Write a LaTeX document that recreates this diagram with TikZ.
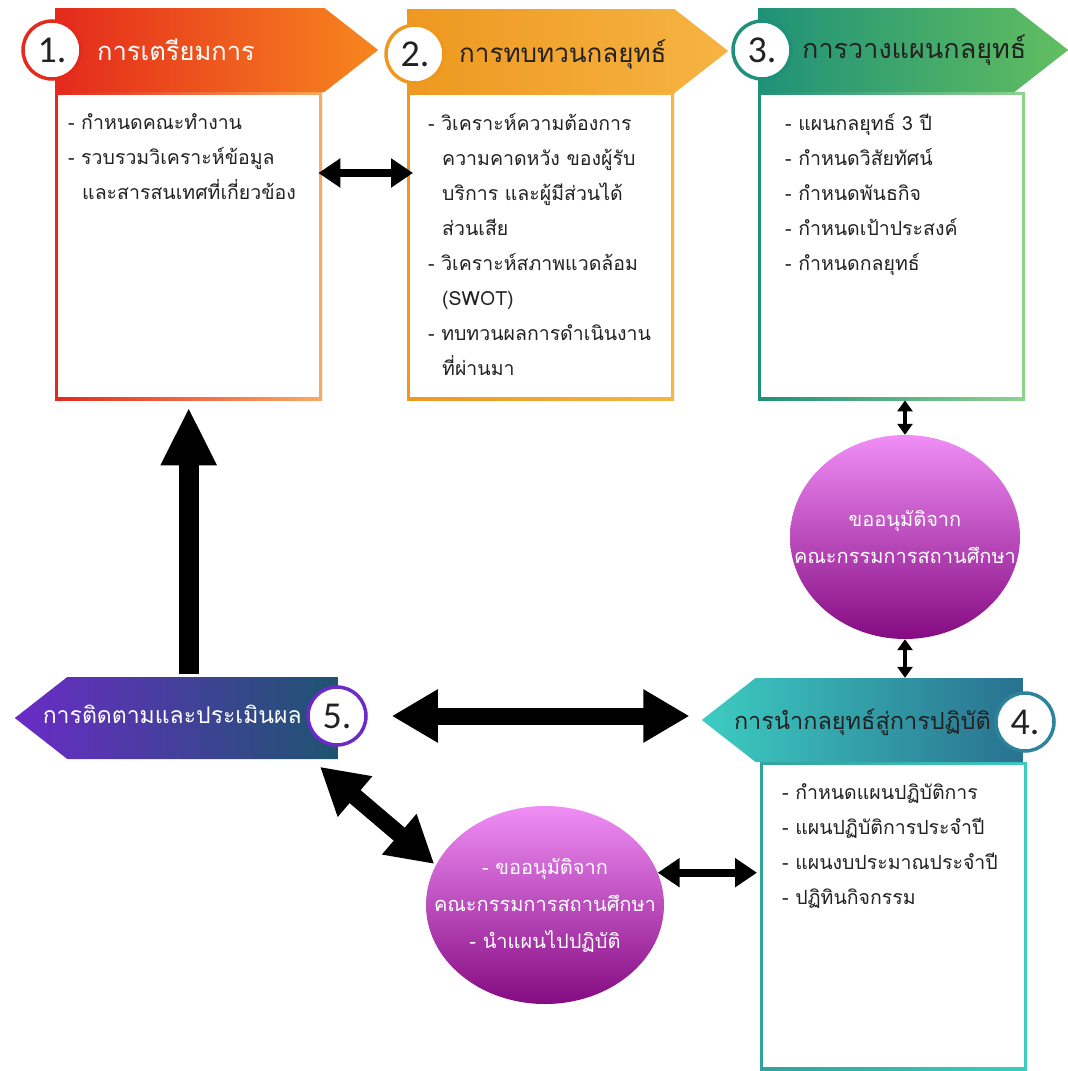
\documentclass[tikz,border=0pt]{standalone}
\usepackage{fontspec}
\setmainfont{Carlito}
\newfontfamily\thai[Script=Thai]{Loma}
\usepackage{tikz}
\usetikzlibrary{arrows.meta, positioning, shapes.geometric, shapes.symbols, calc}

\definecolor{redA}{HTML}{E42A1D}
\definecolor{redB}{HTML}{F7861E}
\definecolor{orgA}{HTML}{EE9820}
\definecolor{orgB}{HTML}{F6B443}
\definecolor{grnA}{HTML}{1F9178}
\definecolor{grnB}{HTML}{62BE60}
\definecolor{tealA}{HTML}{3DCCC2}
\definecolor{tealB}{HTML}{29718F}
\definecolor{purA}{HTML}{6A2BC6}
\definecolor{purB}{HTML}{1E5470}
\definecolor{ovaltop}{HTML}{F08EF6}
\definecolor{ovalmid}{HTML}{C23FC4}
\definecolor{ovalbot}{HTML}{850B82}
\definecolor{txt}{HTML}{222222}

\begin{document}
\begin{tikzpicture}[x=1pt, y=1pt,
        box/.style 2 args={rectangle, anchor=north west, inner sep=0pt, minimum width=267pt, minimum height=308pt,
            path picture={\shade[left color=#1, right color=#2] (path picture bounding box.south west) rectangle (path picture bounding box.north east);
                \fill[white] ([shift={(3pt,3pt)}]path picture bounding box.south west) rectangle ([shift={(-3pt,-3pt)}]path picture bounding box.north east);}},
        head/.style={signal, signal pointer angle=76, inner sep=0pt, minimum height=84pt, minimum width=322pt},
        num/.style={circle, draw=#1, line width=3.5pt, fill=white, minimum size=58pt, inner sep=0pt, text=txt, font=\fontsize{38}{40}\selectfont},
        title/.style={font=\thai\fontsize{#1}{30}\selectfont, inner sep=0pt},
        item/.style={font=\thai\fontsize{19.5}{35}\selectfont, align=left, anchor=north west, inner sep=0pt, text=txt},
        oval/.style={ellipse, top color=ovaltop, middle color=ovalmid, bottom color=ovalbot, align=center, text=white, inner xsep=-32pt, inner ysep=0pt, font=\thai\fontsize{20}{37}\selectfont},
        arrow/.style={{Triangle[width=28pt,length=22pt]}-{Triangle[width=28pt,length=22pt]}, line width=8pt},
        thinarrow/.style={{Triangle[width=15pt,length=11pt]}-{Triangle[width=15pt,length=11pt]}, line width=4pt},
        bigarrow/.style={{Triangle[width=50pt,length=46pt]}-{Triangle[width=50pt,length=46pt]}, line width=17pt},
        uparrow/.style={-{Triangle[width=52pt,length=58pt]}, line width=20pt}
    ]
        \useasboundingbox (0,0) rectangle (1068,-1071);

        \node[box={redA}{redB!70!white}] (b1) at (55,-92) {};
        \node[box={orgA}{orgB}] (b2) at (407,-92) {};
        \node[box={grnA}{grnB!70!white}] (b3) at (758,-92) {};
        \node[box={tealA!80!black}{tealA}] (b4) at (760,-762) {};

        \node[head, signal to=east, anchor=west, left color=redA, right color=redB, minimum width=323pt] (h1) at (55,-50) {};
        \node[head, signal to=east, anchor=west, left color=orgA, right color=orgB, minimum width=321pt] (h2) at (407,-51) {};
        \node[head, signal to=east, anchor=west, left color=grnA, right color=grnB, minimum width=310pt] (h3) at (758,-50) {};
        \node[head, signal to=west, anchor=east, left color=tealA, right color=tealB, minimum width=321pt] (h4) at (1023,-720) {};
        \node[head, signal to=west, anchor=east, left color=purA, right color=purB, minimum width=323pt, minimum height=82pt] (h5) at (338,-718) {};

        \node[title=25.5, anchor=west, text=white] (h1t) at (97,-50) {การเตรียมการ};
        \node[title=26, anchor=west, text=txt] (h2t) at (459,-54) {การทบทวนกลยุทธ์};
        \node[title=27, anchor=west, text=txt] (h3t) at (802,-50) {การวางแผนกลยุทธ์};
        \node[title=23.5, anchor=east, text=txt] (h4t) at (991,-722) {การนำกลยุทธ์สู่การปฏิบัติ};
        \node[title=23, anchor=east, text=white] (h5t) at (302,-714) {การติดตามและประเมินผล};

        \node[num=redA] (c1) at (52,-50) {1.};
        \node[num=orgA] (c2) at (415,-54) {2.};
        \node[num=grnA] (c3) at (762,-50) {3.};
        \node[num=tealB!80!tealA] (c4) at (1025,-722) {4.};
        \node[num=purA] (c5) at (337,-716) {5.};

        \node[item] (t1) at (68,-113) {- กำหนดคณะทำงาน\\- รวบรวมวิเคราะห์ข้อมูล\\\hspace*{14pt}และสารสนเทศที่เกี่ยวข้อง};
        \node[item] (t2) at (428,-113) {- วิเคราะห์ความต้องการ\\\hspace*{14pt}ความคาดหวัง ของผู้รับ\\\hspace*{14pt}บริการ และผู้มีส่วนได้\\\hspace*{14pt}ส่วนเสีย\\- วิเคราะห์สภาพแวดล้อม\\\hspace*{14pt}(SWOT)\\- ทบทวนผลการดำเนินงาน\\\hspace*{14pt}ที่ผ่านมา};
        \node[item] (t3) at (785,-113) {- แผนกลยุทธ์ 3 ปี\\- กำหนดวิสัยทัศน์\\- กำหนดพันธกิจ\\- กำหนดเป้าประสงค์\\- กำหนดกลยุทธ์};
        \node[item] (t4) at (782,-783) {- กำหนดแผนปฏิบัติการ\\- แผนปฏิบัติการประจำปี\\- แผนงบประมาณประจำปี\\- ปฏิทินกิจกรรม};

        \node[oval, minimum width=230pt, minimum height=204pt] (e1) at (905,-537) {ขออนุมัติจาก\\คณะกรรมการสถานศึกษา};
        \node[oval, minimum width=238pt, minimum height=198pt] (e2) at (545,-905) {- ขออนุมัติจาก\\คณะกรรมการสถานศึกษา\\- นำแผนไปปฏิบัติ};

        \draw[arrow] ($(b1.north east)+(-4,-81)$) -- ($(b2.north west)+(6,-81)$);
        \draw[thinarrow] (b3.south -| e1.north) -- (e1.north);
        \draw[thinarrow] (e1.south) -- (e1.south |- h4.north);
        \draw[uparrow, shorten <=3pt, shorten >=7pt] (b1.south |- h5.north) -- (b1.south);
        \draw[bigarrow, shorten <=24pt, shorten >=12pt] (c5.east) -- (c5.east -| h4.west);
        \draw[bigarrow, shorten >=2pt] ($(h5.south east)+(-18,-8)$) -- (e2.160);
        \draw[arrow, shorten >=3pt] (e2.16) -- (e2.16 -| b4.west);
    \end{tikzpicture}
\end{document}
